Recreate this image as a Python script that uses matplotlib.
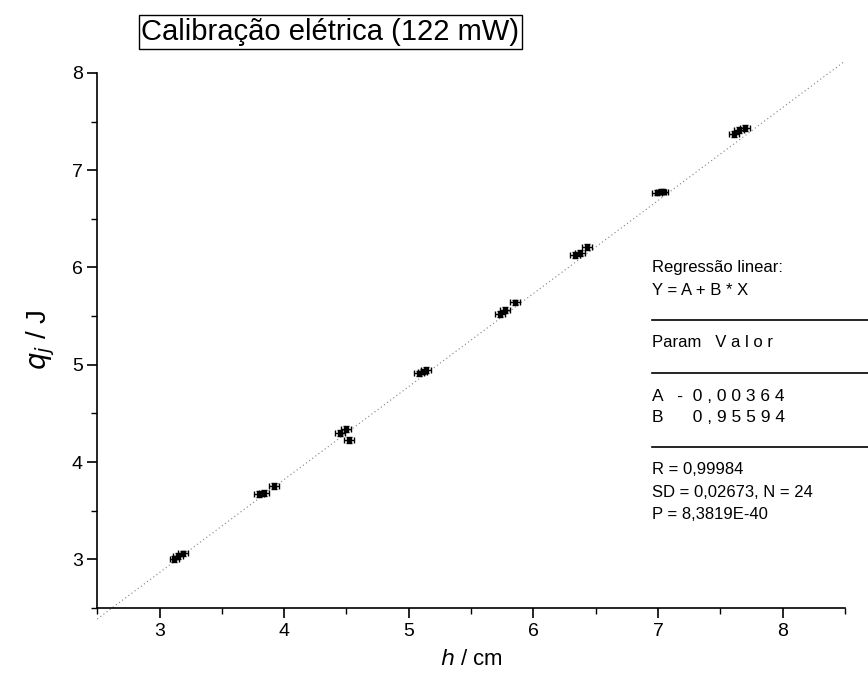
import matplotlib
matplotlib.use("Agg")
import matplotlib.pyplot as plt
from matplotlib.lines import Line2D
import numpy as np

plt.rcParams["font.family"] = ["Liberation Sans", "DejaVu Sans"]

# calibration points: height h (cm) vs heat q_j (J), 3 runs per level
h = [3.12, 3.15, 3.19, 3.80, 3.84, 3.92, 4.45, 4.50, 4.52, 5.08, 5.11, 5.14,
     5.73, 5.77, 5.85, 6.33, 6.37, 6.43, 6.99, 7.02, 7.04, 7.61, 7.65, 7.70]
q = [3.00, 3.03, 3.06, 3.67, 3.68, 3.75, 4.30, 4.34, 4.23, 4.91, 4.93, 4.95,
     5.52, 5.56, 5.64, 6.13, 6.15, 6.21, 6.77, 6.78, 6.78, 7.37, 7.41, 7.43]
h_err = [0.04] * 24
q_err = [0.03] * 24

# linear fit parameters shown in the box
A = -0.00364
B = 0.95594
fit_x = [2.5, 8.5]

xticks = [3, 4, 5, 6, 7, 8]
yticks = [3, 4, 5, 6, 7, 8]

fig = plt.figure(figsize=(8.68, 6.75), dpi=100)
ax = fig.add_axes([0.112, 0.0993, 0.8615, 0.836])

ax.plot(fit_x, [A + B * x for x in fit_x], color="gray", lw=0.8,
        ls=(0, (1, 2.5)), clip_on=False)
ax.errorbar(h, q, xerr=h_err, yerr=q_err, fmt="s", ms=2.5, color="black",
            ecolor="black", elinewidth=1, capsize=2.5, capthick=1)

ax.set_xlim(2.5, 8.5)
ax.set_ylim(2.5, 8.3)
ax.set_xticks(xticks)
ax.set_yticks(yticks)
ax.set_xticks(np.arange(2.5, 8.6, 1.0), minor=True)
ax.set_yticks(np.arange(2.5, 8.0, 1.0), minor=True)
ax.tick_params(which="major", direction="out", length=7, width=1.2, labelsize=14)
ax.tick_params(which="minor", direction="out", length=4, width=1)

for s in ("top", "right"):
    ax.spines[s].set_visible(False)
ax.spines["left"].set_bounds(2.5, 8)
ax.spines["left"].set_linewidth(1.2)
ax.spines["bottom"].set_linewidth(1.2)

ax.set_xlabel(r"$h$ / cm", fontsize=16, va="center", ha="center")
ax.xaxis.set_label_coords(0.5, -0.092)
ax.set_ylabel(r"$q_j$ / J", fontsize=20, va="center", ha="center")
ax.yaxis.set_label_coords(-0.076, 0.475)

fig.text(0.163, 0.953, "Calibração elétrica (122 mW)", fontsize=21,
         va="center", ha="left",
         bbox=dict(boxstyle="square,pad=0.1", fc="white", ec="black", lw=1))

tx = 0.751
lines_txt = [
    (0.603, "Regressão linear:"),
    (0.570, "Y = A + B * X"),
    (0.492, "Param   V a l o r"),
    (0.412, "A   -  0 , 0 0 3 6 4"),
    (0.381, "B      0 , 9 5 5 9 4"),
    (0.304, "R = 0,99984"),
    (0.270, "SD = 0,02673, N = 24"),
    (0.238, "P = 8,3819E-40"),
]
for y, t in lines_txt:
    fig.text(tx, y, t, fontsize=12.5 if t[0] in "AB" else 12,
             va="center", ha="left")
for y in (0.526, 0.447, 0.338):
    fig.add_artist(Line2D([tx, 1.0], [y, y], color="black", lw=1.2,
                          transform=fig.transFigure))

fig.savefig("out.png", dpi=100)
